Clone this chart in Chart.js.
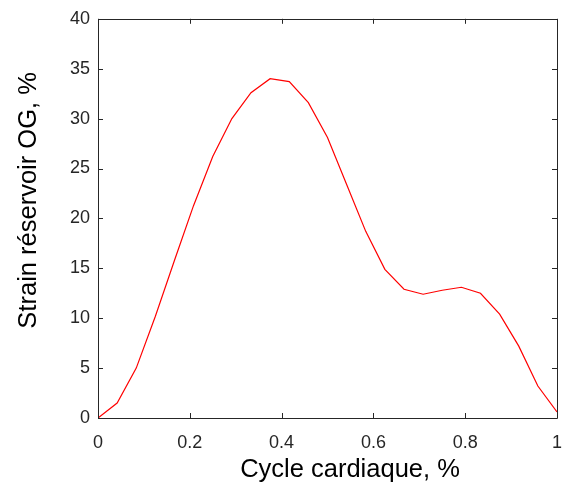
<!DOCTYPE html>
<html>
<head>
<meta charset="utf-8">
<script src="https://cdn.jsdelivr.net/npm/chart.js@4/dist/chart.umd.min.js"></script>
<style>
html,body{margin:0;padding:0;background:#fff;}
#wrap{width:571px;height:487px;}
</style>
</head>
<body>
<div id="wrap"><canvas id="c" width="571" height="487"></canvas></div>
<script>
const cyclePos = [0, 0.0417, 0.0833, 0.125, 0.1667, 0.2083, 0.25, 0.2917, 0.3333, 0.375, 0.4167, 0.4583, 0.5, 0.5417, 0.5833, 0.625, 0.6667, 0.7083, 0.75, 0.7917, 0.8333, 0.875, 0.9167, 0.9583, 1.0];
const strainValues = [0, 1.5, 5.0, 10.2, 15.8, 21.3, 26.2, 30.0, 32.6, 34.0, 33.7, 31.6, 28.1, 23.4, 18.7, 14.9, 12.9, 12.4, 12.8, 13.1, 12.5, 10.4, 7.2, 3.2, 0.6];
const xTickValues = [0, 0.2, 0.4, 0.6, 0.8, 1];
const xTickLabels = ['0', '0.2', '0.4', '0.6', '0.8', '1'];
const yTickValues = [0, 5, 10, 15, 20, 25, 30, 35, 40];
const yTickLabels = ['0', '5', '10', '15', '20', '25', '30', '35', '40'];
const xTitle = 'Cycle cardiaque, %';
const yTitle = 'Strain réservoir OG, %';

const axisColor = '#262626';
const tickLen = 5;
const fontFamily = '"Liberation Sans", Arial, Helvetica, sans-serif';

// The reference's axis titles are not centred on the plot box:
// shift the scale boxes while the scales (titles) draw, restore before the data draws.
const titleShift = {
  id: 'titleShift',
  beforeDraw(chart) {
    const x = chart.scales.x, y = chart.scales.y;
    x.left += 22.5; x.right += 22.5;
    y.top -= 18; y.bottom -= 18;
  },
  beforeDatasetsDraw(chart) {
    const x = chart.scales.x, y = chart.scales.y;
    x.left -= 22.5; x.right -= 22.5;
    y.top += 18; y.bottom += 18;
  }
};

const boxPlugin = {
  id: 'boxTicks',
  afterDatasetsDraw(chart) {
    const {ctx, chartArea: a, scales: {x, y}} = chart;
    ctx.save();
    ctx.strokeStyle = axisColor;
    ctx.lineWidth = 1;
    ctx.beginPath();
    ctx.rect(Math.round(a.left) + 0.5, Math.round(a.top) + 0.5, Math.round(a.right - a.left), Math.round(a.bottom - a.top));
    ctx.stroke();
    ctx.beginPath();
    xTickValues.forEach(v => {
      const px = Math.round(x.getPixelForValue(v)) + 0.5;
      ctx.moveTo(px, a.bottom); ctx.lineTo(px, a.bottom - tickLen);
      ctx.moveTo(px, a.top); ctx.lineTo(px, a.top + tickLen);
    });
    yTickValues.forEach(v => {
      const py = Math.round(y.getPixelForValue(v)) + 0.5;
      ctx.moveTo(a.left, py); ctx.lineTo(a.left + tickLen, py);
      ctx.moveTo(a.right, py); ctx.lineTo(a.right - tickLen, py);
    });
    ctx.stroke();
    ctx.restore();
  }
};

new Chart(document.getElementById('c'), {
  type: 'line',
  data: {
    datasets: [{
      data: cyclePos.map((p, i) => ({x: p, y: strainValues[i]})),
      borderColor: '#ff0000',
      borderWidth: 1.2,
      pointRadius: 0,
      tension: 0,
      fill: false
    }]
  },
  options: {
    responsive: false,
    animation: false,
    devicePixelRatio: 1,
    layout: {padding: {left: 0, top: 18, right: 14, bottom: 0}},
    plugins: {legend: {display: false}, tooltip: {enabled: false}},
    scales: {
      x: {
        type: 'linear', min: 0, max: 1,
        afterBuildTicks: s => { s.ticks = xTickValues.map(v => ({value: v})); },
        afterFit: s => { s.height = 69; s.paddingLeft = 0; s.paddingRight = 0; },
        grid: {display: false, drawTicks: false},
        border: {display: false},
        ticks: {
          callback: (v) => xTickLabels[xTickValues.indexOf(v)],
          color: axisColor, padding: 14, maxRotation: 0, autoSkip: false,
          font: {family: fontFamily, size: 18}
        },
        title: {
          display: true, text: xTitle, color: '#000',
          font: {family: fontFamily, size: 25.5},
          padding: {top: 0, bottom: 2}
        }
      },
      y: {
        type: 'linear', min: 0, max: 40,
        afterBuildTicks: s => { s.ticks = yTickValues.map(v => ({value: v})); },
        afterFit: s => { s.width = 98; },
        grid: {display: false, drawTicks: false},
        border: {display: false},
        ticks: {
          callback: (v) => yTickLabels[yTickValues.indexOf(v)],
          color: axisColor, padding: 8, autoSkip: false,
          font: {family: fontFamily, size: 18}
        },
        title: {
          display: true, text: yTitle, color: '#000',
          font: {family: fontFamily, size: 25.5},
          padding: {top: 14, bottom: 0}
        }
      }
    }
  },
  plugins: [titleShift, boxPlugin]
});
</script>
</body>
</html>
